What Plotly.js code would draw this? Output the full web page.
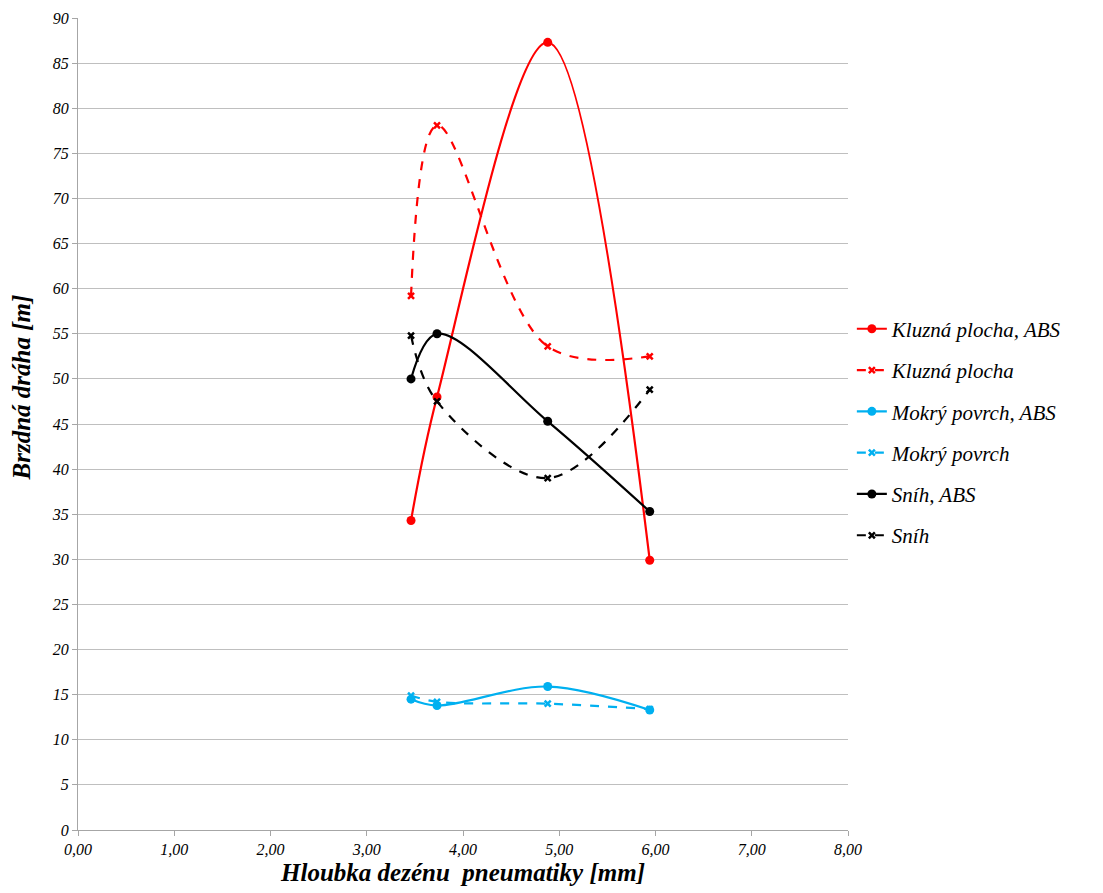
<!DOCTYPE html>
<html><head><meta charset="utf-8">
<script src="https://cdn.plot.ly/plotly-3.0.1.min.js"></script>
<style>html,body{margin:0;padding:0;background:#fff}#chart{width:1103px;height:893px}</style>
</head><body><div id="chart"></div>
<script>
const depth = [3.46, 3.73, 4.88, 5.94];
const kluznaABS = [34.3, 48.0, 87.3, 29.9];
const kluzna = [59.2, 78.1, 53.6, 52.5];
const mokryABS = [14.5, 13.8, 15.9, 13.3];
const mokry = [14.9, 14.2, 14.0, 13.4];
const snihABS = [50.0, 55.0, 45.3, 35.3];
const snih = [54.8, 47.5, 39.0, 48.8];
const names = ['Kluzná plocha, ABS','Kluzná plocha','Mokrý povrch, ABS','Mokrý povrch','Sníh, ABS','Sníh'];
const RED = '#FF0000', BLUE = '#00B0F0', BLACK = '#000000';

function tr(y, name, color, abs, g) {
  return {
    x: depth, y: y, name: name, type: 'scatter', mode: 'lines+markers',
    legendgroup: g,
    line: {color: color, width: 2.2, dash: abs ? 'solid' : 'dash', shape: 'spline', smoothing: 1},
    marker: abs ? {symbol: 'circle', size: 9, color: color}
                : {symbol: 'x-thin', size: 6, color: color, line: {color: color, width: 2.5}}
  };
}
const data = [
  tr(kluznaABS, names[0], RED, true, 'a'),
  tr(kluzna, names[1], RED, false, 'b'),
  tr(mokryABS, names[2], BLUE, true, 'c'),
  tr(mokry, names[3], BLUE, false, 'd'),
  tr(snihABS, names[4], BLACK, true, 'e'),
  tr(snih, names[5], BLACK, false, 'f')
];
const serif = 'Liberation Serif, Times New Roman, serif';
const layout = {
  width: 1103, height: 893,
  margin: {l: 78, r: 255, t: 18, b: 63},
  paper_bgcolor: '#fff', plot_bgcolor: '#fff',
  separators: ', ',
  showlegend: true,
  legend: {x: 1.005, y: 0.49, xanchor: 'left', yanchor: 'middle',
           font: {family: serif, size: 21, color: '#000', style: 'italic'},
           tracegroupgap: 11, itemwidth: 30},
  xaxis: {
    range: [0, 8], dtick: 1, tick0: 0, tickformat: '.2f',
    showgrid: false, zeroline: false,
    showline: true, linecolor: '#A6A6A6', linewidth: 1,
    ticks: 'outside', ticklen: 5, tickcolor: '#A6A6A6',
    tickfont: {family: serif, size: 16, color: '#000', style: 'italic'},
    title: {text: 'Hloubka dezénu  pneumatiky [mm]', standoff: 6,
            font: {family: serif, size: 25, color: '#000', weight: 'bold', style: 'italic'}}
  },
  yaxis: {
    range: [0, 90], dtick: 5, tick0: 0,
    showgrid: true, gridcolor: '#BFBFBF', gridwidth: 1, zeroline: false,
    showline: true, linecolor: '#A6A6A6', linewidth: 1,
    ticks: 'outside', ticklen: 5, tickcolor: '#A6A6A6',
    tickfont: {family: serif, size: 16, color: '#000', style: 'italic'}
  },
  annotations: [{
    text: 'Brzdná dráha [m]', textangle: -90,
    xref: 'paper', yref: 'paper', x: 0, y: 0.545, xanchor: 'center', yanchor: 'middle',
    xshift: -57, showarrow: false,
    font: {family: serif, size: 25, color: '#000', weight: 'bold', style: 'italic'}
  }]
};
Plotly.newPlot('chart', data, layout, {displayModeBar: false});
</script></body></html>
